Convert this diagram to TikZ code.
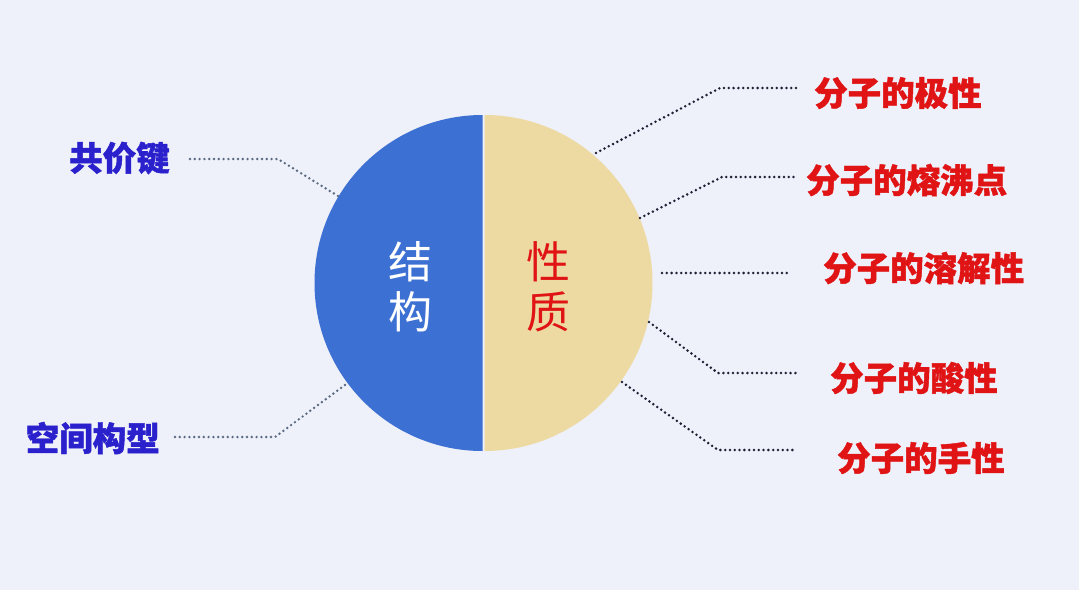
\documentclass[tikz,border=0pt]{standalone}
\usepackage{fontspec}
\newfontfamily\cjk{Noto Sans CJK SC}
\newfontfamily\cjkheavy[FakeBold=1.3]{Noto Sans CJK SC}
\definecolor{bgc}{HTML}{EEF0FA}
\definecolor{bluehalf}{HTML}{3C70D2}
\definecolor{tanhalf}{HTML}{EDDAA2}
\definecolor{lblblue}{HTML}{2A20CC}
\definecolor{lblred}{HTML}{E01414}
\definecolor{dotleft}{HTML}{5A6A80}
\definecolor{dotright}{HTML}{202034}
\begin{document}
\begin{tikzpicture}[x=1pt,y=-1pt,
  lbl/.style={font=\cjkheavy\bfseries\fontsize{33.5}{34}\selectfont, inner sep=0pt},
  leftlbl/.style={lbl, text=lblblue},
  rightlbl/.style={lbl, text=lblred},
  bigchar/.style={font=\cjk\fontsize{44}{44}\selectfont, inner sep=0pt},
  dotl/.style={draw=dotleft, line width=2.7pt, line cap=round, dash pattern=on 0pt off 4.8pt},
  dotr/.style={draw=dotright, line width=2.8pt, line cap=round, dash pattern=on 0pt off 4.8pt}]
\fill[bgc] (0,0) rectangle (1079,590);
\useasboundingbox (0,0) rectangle (1079,590);
\coordinate (c) at (483,283);
% halves
\fill[bluehalf] (482.5,115) arc[start angle=-90, end angle=-270, radius=168] -- cycle;
\fill[tanhalf] (484.5,115) arc[start angle=-90, end angle=90, radius=168] -- cycle;
% centre text
\node[bigchar, text=white] (jie) at (410,262) {结};
\node[bigchar, text=white] (gou) at (410,312) {构};
\node[bigchar, text=lblred] (xing) at (548,262) {性};
\node[bigchar, text=lblred] (zhi) at (548,312) {质};
% labels
\node[leftlbl, anchor=east] (gjj) at (170,158) {共价键};
\node[leftlbl, anchor=east] (kjgx) at (160,438) {空间构型};
\node[rightlbl, anchor=west] (r1) at (814,93) {分子的极性};
\node[rightlbl, anchor=west] (r2) at (806,180) {分子的熔沸点};
\node[rightlbl, anchor=west] (r3) at (823,268) {分子的溶解性};
\node[rightlbl, anchor=west] (r4) at (830,378) {分子的酸性};
\node[rightlbl, anchor=west] (r5) at (837,458) {分子的手性};
% circle contact points
\coordinate (p1) at (338,196);
\coordinate (p2) at (345,385);
\coordinate (q1) at (596,153);
\coordinate (q2) at (640,218);
\coordinate (q3) at (662,273);
\coordinate (q4) at (649,322);
\coordinate (q5) at (622,382);
% connectors
\draw[dotl] (gjj.east) ++(20,1) -- (278,159) -- (p1);
\draw[dotl] (kjgx.east) ++(15,-1) -- (275,437) -- (p2);
\draw[dotr] (q1) -- (720,88) -- ([xshift=-17pt]r1.west |- 0,88);
\draw[dotr] (q2) -- (722,177) -- ([xshift=-9pt]r2.west |- 0,177);
\draw[dotr] (q3) -- ([xshift=-33pt]r3.west |- 0,273);
\draw[dotr] (q4) -- (718,373) -- ([xshift=-33pt]r4.west |- 0,373);
\draw[dotr] (q5) -- (718,450) -- ([xshift=-40pt]r5.west |- 0,450);
\end{tikzpicture}
\end{document}
